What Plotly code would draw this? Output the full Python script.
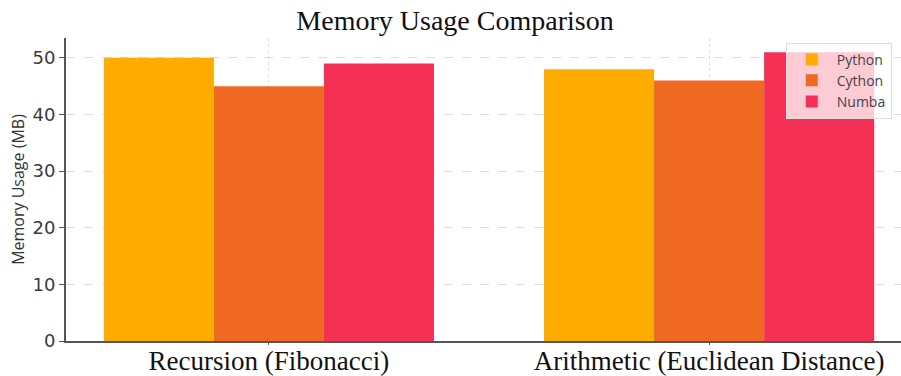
import plotly.graph_objects as go

categories = ["Recursion (Fibonacci)", "Arithmetic (Euclidean Distance)"]
python_mem = [50, 48]
cython_mem = [45, 46]
numba_mem = [49, 51]
y_ticks = [0, 10, 20, 30, 40, 50]

series = [
    ("Python", python_mem, "#FFAC00"),
    ("Cython", cython_mem, "#F06923"),
    ("Numba", numba_mem, "#F53055"),
]

fig = go.Figure()
for name, vals, color in series:
    fig.add_trace(go.Bar(
        name=name, x=categories, y=vals,
        marker=dict(color=color, line=dict(width=0)),
    ))

fig.update_layout(
    width=901, height=376,
    margin=dict(l=66, r=0, t=38, b=35),
    paper_bgcolor="white", plot_bgcolor="white",
    barmode="group", bargap=0.25, bargroupgap=0,
    title=dict(
        text="Memory Usage Comparison",
        x=0.505, xref="container", xanchor="center",
        y=0.945, yanchor="middle",
        font=dict(family="Liberation Serif", size=28, color="#111"),
    ),
    legend=dict(
        x=0.862, y=0.985, xanchor="left", yanchor="top",
        bgcolor="rgba(255,255,255,0.75)", bordercolor="#dddddd", borderwidth=1,
        font=dict(family="Open Sans", size=14, color="#444"),
        tracegroupgap=0, itemwidth=40,
    ),
    showlegend=True,
)

fig.update_xaxes(
    type="category", range=[-0.461, 1.436], automargin=False,
    showline=True, linecolor="#555", linewidth=2,
    showgrid=True, gridcolor="#dddddd", griddash="dot", gridwidth=1,
    ticks="outside", ticklen=2, tickcolor="#555",
    ticklabelstandoff=-7,
    tickfont=dict(family="Liberation Serif", size=27, color="#111"),
)
fig.update_yaxes(
    range=[0, 53.5], tickvals=y_ticks, automargin=False,
    showline=True, linecolor="#555", linewidth=2,
    showgrid=True, gridcolor="#dddddd", griddash="dash", gridwidth=1,
    zeroline=False,
    ticks="outside", ticklen=5, tickcolor="#555",
    tickfont=dict(family="DejaVu Sans", size=18, color="#3a3a3a"),
    title=dict(text="Memory Usage (MB)", standoff=4,
               font=dict(family="Open Sans", size=16, color="#333")),
)

fig.write_html("out.html")
